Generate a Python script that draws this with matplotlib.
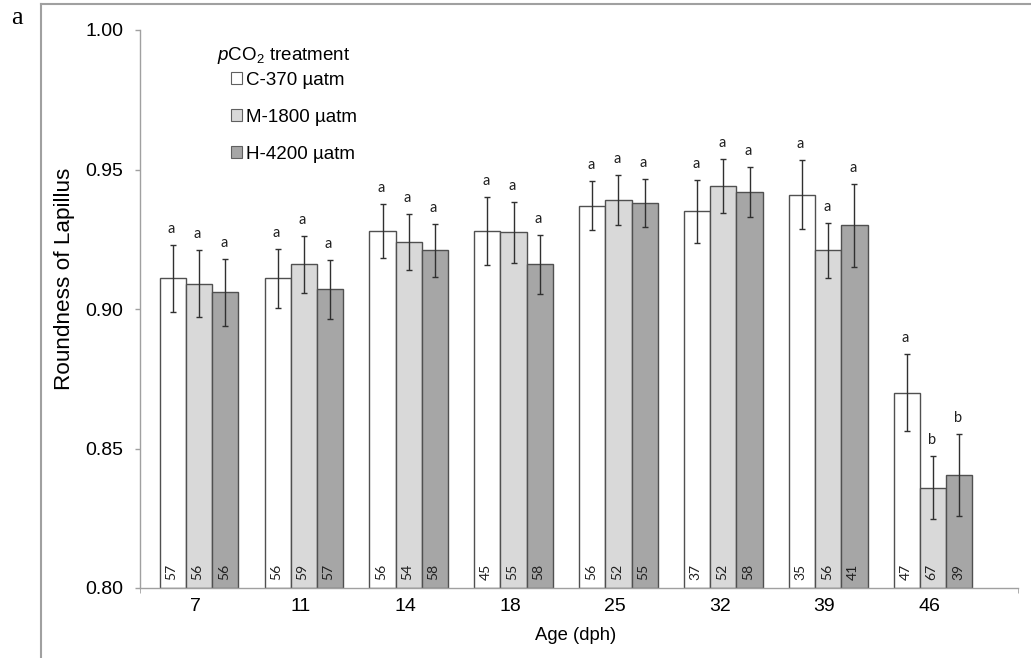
import matplotlib
matplotlib.use("Agg")
import matplotlib.pyplot as plt
from matplotlib.patches import Patch
from matplotlib.lines import Line2D
import numpy as np

plt.rcParams['font.family'] = ['Liberation Sans', 'DejaVu Sans']
plt.rcParams['mathtext.fontset'] = 'custom'
plt.rcParams['mathtext.rm'] = 'Liberation Sans'
plt.rcParams['mathtext.it'] = 'Liberation Sans:italic'

# ---- data ----
ages = ['7', '11', '14', '18', '25', '32', '39', '46']
series_names = ['C-370 µatm', 'M-1800 µatm', 'H-4200 µatm']

mean_C = [0.911, 0.911, 0.928, 0.928, 0.937, 0.935, 0.941, 0.870]
mean_M = [0.909, 0.916, 0.924, 0.9275, 0.939, 0.944, 0.921, 0.836]
mean_H = [0.906, 0.907, 0.921, 0.916, 0.938, 0.942, 0.930, 0.8405]

err_C = [0.012, 0.0106, 0.0098, 0.0122, 0.0087, 0.0113, 0.0124, 0.0139]
err_M = [0.012, 0.0103, 0.0100, 0.0110, 0.0090, 0.0097, 0.0098, 0.0114]
err_H = [0.012, 0.0105, 0.0096, 0.0106, 0.0087, 0.0090, 0.0148, 0.0146]

n_C = [57, 56, 56, 45, 56, 37, 35, 47]
n_M = [56, 59, 54, 55, 52, 52, 56, 67]
n_H = [56, 57, 58, 58, 55, 58, 41, 39]

sig_C = ['a', 'a', 'a', 'a', 'a', 'a', 'a', 'a']
sig_M = ['a', 'a', 'a', 'a', 'a', 'a', 'a', 'b']
sig_H = ['a', 'a', 'a', 'a', 'a', 'a', 'a', 'b']

yticks = [0.80, 0.85, 0.90, 0.95, 1.00]

# ---- style ----
colors = ['#FFFFFF', '#D9D9D9', '#A6A6A6']
edge = '#505050'
spine_col = '#A0A0A0'
err_col = '#303030'

fig = plt.figure(figsize=(10.31, 6.58), dpi=100)
ax = fig.add_axes([140/1031, 1-588/658, (1018-140)/1031, (588-30)/658])

x = np.arange(len(ages))
w = 0.25
means = [mean_C, mean_M, mean_H]
errs = [err_C, err_M, err_H]
ns = [n_C, n_M, n_H]
sigs = [sig_C, sig_M, sig_H]

for i in range(3):
    pos = x + (i - 1) * w
    ax.bar(pos, np.array(means[i]) - 0.80, bottom=0.80, width=w,
           color=colors[i], edgecolor=edge, linewidth=1.0, zorder=2)
    ax.errorbar(pos, means[i], yerr=errs[i], fmt='none', ecolor=err_col,
                elinewidth=1.0, capsize=2.0, capthick=1.0, zorder=3)
    for p, m, e, s, n in zip(pos, means[i], errs[i], sigs[i], ns[i]):
        ax.annotate(s, (p, m + e), xytext=(-1, 6.5), textcoords='offset points',
                    ha='center', va='bottom', fontsize=10.5, family='Lato',
                    color='#202020')
        ax.annotate(str(n), (p, 0.80), xytext=(-1, 5.5), textcoords='offset points',
                    ha='center', va='bottom', rotation=90, fontsize=10,
                    family='Lato', color='#202020')

ax.set_xlim(-0.5625, 7.81)
ax.set_ylim(0.80, 1.00)
ax.set_yticks(yticks)
ax.set_yticklabels([f'{v:.2f}' for v in yticks], fontsize=14)
ax.set_xticks(x - 0.035)
ax.set_xticklabels(ages, fontsize=14)
ax.tick_params(axis='x', which='major', length=0, pad=7)
ax.set_xticks([-0.5625, 7.81], minor=True)
ax.tick_params(axis='x', which='minor', length=3.5, color=spine_col, direction='out')
ax.tick_params(axis='y', length=3.5, color=spine_col, width=1, pad=8.5)

for side in ['top', 'right']:
    ax.spines[side].set_visible(False)
for side in ['left', 'bottom']:
    ax.spines[side].set_color(spine_col)
    ax.spines[side].set_linewidth(1.0)

ax.set_ylabel('Roundness of Lapillus', fontsize=16.2)
ax.yaxis.set_label_coords(-0.074, 0.554)
ax.set_xlabel('Age (dph)', fontsize=13.3)
ax.xaxis.set_label_coords(0.496, -0.069)

# legend
ax.text((217-140)/878, (588-55)/558, r'$\mathit{p}$CO$_2$ treatment',
        fontsize=13.5, va='center', ha='left', transform=ax.transAxes)
handles = [Patch(facecolor=c, edgecolor='#606060', linewidth=0.8) for c in colors]
leg = ax.legend(handles, series_names, loc='upper left',
                bbox_to_anchor=((231-140)/878, (588-72)/558),
                frameon=False, fontsize=13.5, handlelength=0.6, handleheight=0.6,
                handletextpad=0.2, labelspacing=1.06, borderpad=0, borderaxespad=0)

# figure frame and panel label
fig.add_artist(Line2D([41/1031, 41/1031], [0, 1-4/658], color='#A0A0A0', lw=1.5))
fig.add_artist(Line2D([41/1031, 1], [1-4/658, 1-4/658], color='#A0A0A0', lw=1.5))
fig.text(11/1031, 1-24/658, 'a', family='Liberation Serif', fontsize=19, ha='left', va='baseline')

fig.savefig('out.png', dpi=100)
